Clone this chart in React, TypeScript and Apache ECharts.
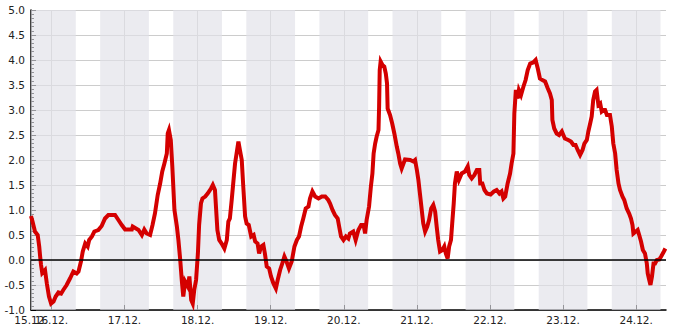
import React, { useEffect, useRef } from "react";
import * as echarts from "echarts";

// x values are hours counted from 16.12. 00:00
const X_MIN = -6.7;
const X_MAX = 201.8;
const START_HOUR = -6.7;
const START_LABEL = "15.12.";
const TICK_HOURS = [0, 24, 48, 72, 96, 120, 144, 168, 192];
const TICK_LABELS = ["16.12.", "17.12.", "18.12.", "19.12.", "20.12.", "21.12.", "22.12.", "23.12.", "24.12."];
const Y_LABELS_MIN = -1;
const Y_LABELS_MAX = 5;
// night bands (16:00 -> 08:00), hours from 16.12. 00:00
const NIGHT_BANDS: [number, number][] = [
  [-8, 8], [16, 32], [40, 56], [64, 80], [88, 104], [112, 128], [136, 152], [160, 176], [184, 200],
];

const HOURS = [
  -6.7, -6.2, -5.4, -4.5, -4.0, -3.7, -3.4, -3.0, -2.1, -1.5, -0.8, -0.1, 0.7, 1.4, 2.3, 3.2, 3.9, 5.0, 6.1, 7.2,
  8.3, 8.9, 9.7, 10.3, 11.1, 11.9, 12.4, 13.3, 14.1, 15.4, 16.5, 17.6, 18.7, 20.9, 22.0, 23.1, 24.2, 26.4, 26.7, 28.6,
  29.7, 30.5, 31.3, 32.4, 33.2, 34.0, 34.9, 35.7, 36.4, 37.1, 37.9, 38.2, 38.6, 39.2, 39.7, 40.4, 41.2, 41.7, 42.3, 42.8,
  43.3, 43.9, 44.8, 45.3, 45.9, 46.4, 46.9, 47.5, 48.1, 48.5, 49.1, 49.6, 50.5, 51.3, 52.4, 53.0, 53.7, 54.1, 54.5, 55.1,
  55.9, 56.8, 57.6, 58.1, 58.6, 59.2, 59.8, 60.3, 60.9, 61.4, 61.9, 62.5, 63.0, 63.6, 64.1, 64.8, 65.6, 66.4, 66.9, 67.7,
  68.2, 68.9, 69.6, 70.1, 70.7, 71.5, 72.1, 72.9, 73.7, 74.3, 75.1, 75.8, 76.5, 77.2, 78.0, 78.9, 79.8, 80.6, 81.3, 82.0,
  82.7, 83.5, 84.4, 84.9, 85.7, 86.6, 87.7, 88.8, 89.9, 90.9, 91.5, 92.3, 93.1, 94.0, 94.6, 95.1, 95.9, 96.7, 97.5, 98.0,
  99.1, 99.9, 100.8, 101.7, 102.5, 103.0, 103.5, 104.3, 104.9, 105.4, 105.8, 106.3, 106.8, 107.4, 107.6, 107.8, 108.1, 108.7, 109.3, 109.8,
  110.2, 110.4, 111.2, 111.9, 112.6, 113.4, 113.9, 114.5, 115.0, 115.6, 116.1, 117.8, 118.8, 119.4, 120.0, 120.5, 121.0, 121.6, 122.1, 122.7,
  123.4, 124.0, 124.7, 125.4, 126.0, 126.5, 127.0, 127.6, 128.4, 129.0, 129.5, 130.1, 130.6, 131.2, 131.6, 132.1, 132.5, 133.1, 133.8, 134.7,
  135.8, 136.7, 137.2, 138.0, 138.9, 139.7, 140.5, 140.8, 141.5, 142.2, 143.0, 144.2, 145.3, 146.2, 147.1, 147.8, 148.4, 149.0, 149.8, 150.6,
  151.1, 151.7, 152.0, 152.5, 153.1, 153.5, 154.2, 155.0, 155.7, 156.4, 157.2, 158.2, 159.0, 159.7, 160.4, 161.2, 162.1, 163.0, 163.7, 164.3,
  164.5, 165.1, 165.9, 166.7, 167.6, 168.1, 168.6, 169.7, 170.6, 171.4, 172.1, 172.8, 173.6, 174.4, 175.0, 175.8, 176.3, 176.9, 177.4, 177.9,
  178.5, 179.0, 179.6, 180.2, 180.7, 181.3, 181.8, 182.4, 183.4, 184.0, 184.5, 185.1, 185.6, 186.2, 186.7, 187.5, 188.1, 188.9, 189.7, 190.3,
  190.8, 191.1, 191.9, 192.5, 193.0, 193.6, 194.2, 194.9, 195.5, 195.8, 196.3, 196.7, 197.2, 197.7, 198.2, 198.8, 199.6, 200.3, 201.1, 201.6,
];

const LEVELS = [
  0.88, 0.77, 0.57, 0.5, 0.27, 0.07, -0.1, -0.26, -0.2, -0.47, -0.73, -0.87, -0.83, -0.73, -0.65, -0.67, -0.6, -0.5, -0.37, -0.23,
  -0.27, -0.23, -0.03, 0.17, 0.33, 0.27, 0.4, 0.47, 0.57, 0.6, 0.68, 0.83, 0.9, 0.9, 0.8, 0.7, 0.61, 0.61, 0.67, 0.6,
  0.5, 0.61, 0.53, 0.5, 0.7, 0.93, 1.3, 1.53, 1.77, 1.93, 2.13, 2.53, 2.6, 2.4, 1.87, 1.0, 0.67, 0.4, 0.0, -0.4,
  -0.73, -0.43, -0.53, -0.33, -0.8, -0.87, -0.6, -0.4, 0.13, 0.7, 1.13, 1.23, 1.27, 1.33, 1.43, 1.5, 1.4, 1.0, 0.6, 0.4,
  0.33, 0.23, 0.4, 0.77, 0.83, 1.2, 1.6, 1.93, 2.17, 2.37, 2.2, 2.0, 1.47, 0.87, 0.73, 0.7, 0.47, 0.5, 0.37, 0.33,
  0.13, 0.27, 0.3, 0.13, -0.13, -0.17, -0.33, -0.47, -0.57, -0.4, -0.2, -0.07, 0.07, -0.03, -0.17, -0.03, 0.27, 0.4, 0.47, 0.67,
  0.83, 1.03, 1.07, 1.23, 1.37, 1.27, 1.23, 1.27, 1.27, 1.2, 1.13, 1.0, 0.9, 0.83, 0.63, 0.47, 0.4, 0.47, 0.43, 0.53,
  0.57, 0.4, 0.6, 0.7, 0.7, 0.53, 0.8, 1.07, 1.47, 1.73, 2.13, 2.33, 2.47, 2.6, 3.07, 3.8, 3.97, 3.9, 3.87, 3.73,
  3.53, 3.03, 2.9, 2.73, 2.53, 2.27, 2.13, 1.93, 1.83, 1.93, 2.01, 2.0, 1.97, 2.0, 1.8, 1.6, 1.33, 1.0, 0.73, 0.57,
  0.67, 0.8, 1.03, 1.1, 0.97, 0.67, 0.4, 0.17, 0.2, 0.27, 0.13, 0.03, 0.27, 0.4, 0.73, 1.13, 1.53, 1.77, 1.6, 1.73,
  1.77, 1.87, 1.7, 1.63, 1.7, 1.8, 1.8, 1.53, 1.53, 1.4, 1.33, 1.31, 1.37, 1.4, 1.33, 1.37, 1.23, 1.27, 1.53, 1.73,
  1.93, 2.13, 2.93, 3.4, 3.23, 3.4, 3.3, 3.47, 3.6, 3.8, 3.93, 3.95, 4.0, 3.83, 3.63, 3.6, 3.57, 3.43, 3.33, 3.2,
  2.8, 2.63, 2.53, 2.5, 2.57, 2.5, 2.43, 2.4, 2.37, 2.3, 2.3, 2.2, 2.1, 2.2, 2.33, 2.4, 2.57, 2.73, 2.87, 3.2,
  3.37, 3.4, 3.1, 3.13, 2.97, 3.0, 3.0, 2.9, 2.9, 2.67, 2.33, 2.13, 1.8, 1.53, 1.4, 1.27, 1.2, 1.03, 0.93, 0.83,
  0.7, 0.53, 0.57, 0.6, 0.5, 0.37, 0.2, 0.13, -0.07, -0.27, -0.4, -0.5, -0.33, -0.07, -0.07, 0.0, 0.01, 0.08, 0.17, 0.23,
];

const FONT = "DejaVu Sans";

export default function App() {
  const ref = useRef<HTMLDivElement>(null);

  useEffect(() => {
    document.body.style.margin = "0";
    if (!ref.current) return;
    const chart = echarts.init(ref.current, null, { renderer: "svg" });
    const data = HOURS.map((h, i) => [h, LEVELS[i]]);
    const labelFor = (v: number) => {
      const i = TICK_HOURS.findIndex((t) => Math.abs(t - v) < 0.01);
      return i >= 0 ? TICK_LABELS[i] : "";
    };
    const labelStyle = { color: "#222", fontFamily: FONT, fontSize: 10.5 };
    chart.setOption({
      animation: false,
      grid: { left: 31, right: 19, top: 10, bottom: 20, containLabel: false },
      xAxis: [
        {
          type: "value",
          min: X_MIN,
          max: X_MAX,
          position: "bottom",
          axisLine: { show: true, onZero: false, lineStyle: { color: "#000", width: 1.5 } },
          axisTick: { show: true, inside: true, length: 5, customValues: TICK_HOURS, lineStyle: { color: "#000" } },
          axisLabel: {
            customValues: TICK_HOURS,
            formatter: (v: number) => labelFor(v),
            showMinLabel: true,
            showMaxLabel: true,
            hideOverlap: false,
            margin: 4,
            ...labelStyle,
          },
          splitLine: { show: true, lineStyle: { color: "#cccccc", width: 1 } },
        },
        {
          type: "value",
          min: X_MIN,
          max: X_MAX,
          position: "bottom",
          offset: 0,
          axisLine: { show: false, onZero: false },
          axisTick: { show: false, customValues: [START_HOUR] },
          axisLabel: {
            customValues: [START_HOUR],
            formatter: () => START_LABEL,
            showMinLabel: true,
            hideOverlap: false,
            margin: 4,
            ...labelStyle,
          },
          splitLine: { show: false },
        },
      ],
      yAxis: {
        type: "value",
        min: Y_LABELS_MIN,
        max: Y_LABELS_MAX,
        interval: 0.5,
        axisLine: { show: true, onZero: false, lineStyle: { color: "#000", width: 1.5 } },
        axisTick: { show: true, inside: true, length: 5, lineStyle: { color: "#000" } },
        minorTick: { show: true, splitNumber: 6, length: 3, lineStyle: { color: "#000" } },
        axisLabel: {
          formatter: (v: number) => v.toFixed(1),
          showMinLabel: true,
          showMaxLabel: true,
          margin: 6,
          ...labelStyle,
        },
        splitLine: { show: true, lineStyle: { color: "#cccccc", width: 1 } },
      },
      series: [
        {
          type: "line",
          data: [],
          z: 1,
          silent: true,
          markLine: {
            silent: true,
            symbol: "none",
            label: { show: false },
            lineStyle: { color: "#000", width: 1.5, type: "solid" },
            data: [{ yAxis: 0 }],
          },
        },
        {
          type: "line",
          data: [],
          z: 2,
          silent: true,
          markArea: {
            silent: true,
            itemStyle: { color: "rgba(224,224,232,0.66)" },
            data: NIGHT_BANDS.map(([a, b]) => [
              { xAxis: Math.max(a, X_MIN) },
              { xAxis: Math.min(b, X_MAX) },
            ]),
          },
        },
        {
          type: "line",
          data,
          z: 3,
          showSymbol: false,
          symbol: "none",
          lineStyle: { color: "#d40000", width: 4, join: "miter" },
        },
      ],
    });
    return () => chart.dispose();
  }, []);

  return <div ref={ref} style={{ width: 685, height: 330 }} />;
}
